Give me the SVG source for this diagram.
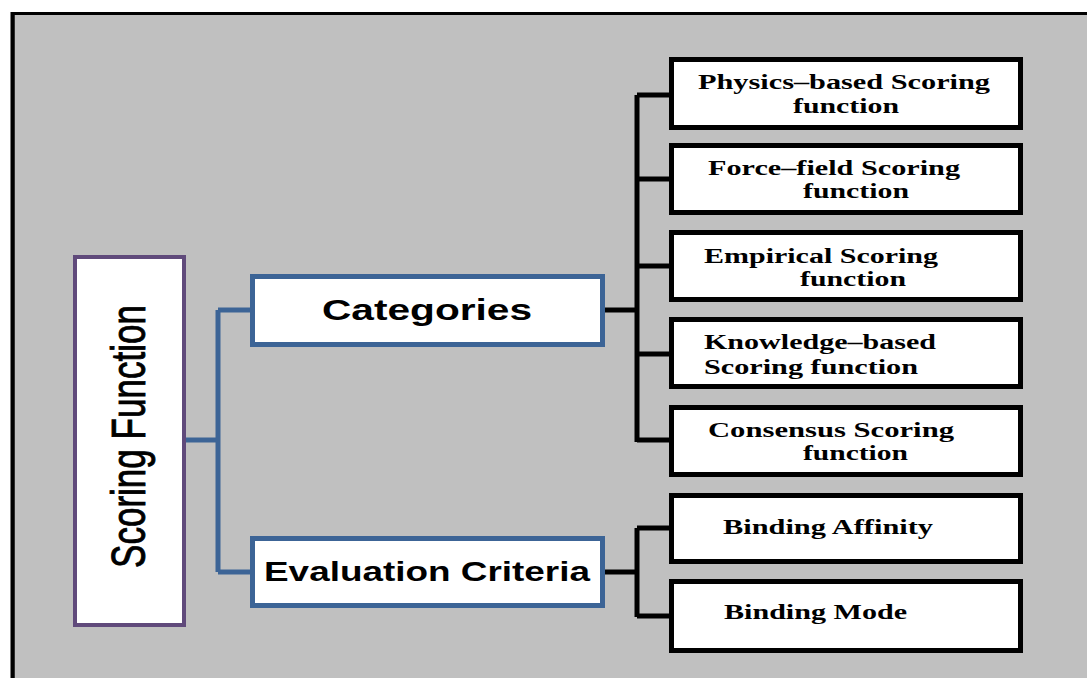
<svg xmlns="http://www.w3.org/2000/svg" width="1087" height="678" viewBox="0 0 1087 678">
<style>
.sf{fill:#fff;stroke:#604A7B;stroke-width:4}
.bl{fill:#fff;stroke:#3C6496;stroke-width:5}
.bk{fill:#fff;stroke:#000;stroke-width:5}
.blc{fill:none;stroke:#3C6496;stroke-width:5}
.bkc{fill:none;stroke:#000;stroke-width:5}
.ar{font-family:"Liberation Sans",Arial,sans-serif;font-weight:bold;fill:#000}
.tm{font-family:"Liberation Serif","Times New Roman",serif;font-weight:bold;font-size:20px;fill:#000}
</style>
<rect x="0" y="0" width="1087" height="678" fill="#fff"/>
<rect x="13" y="13.5" width="1100" height="700" fill="#C0C0C0" stroke="#000" stroke-width="3"/>
<line x1="12.5" y1="12" x2="12.5" y2="678" stroke="#000" stroke-width="4"/>
<g id="connectors">
<path class="blc" d="M186 440 H218 M218 310 V572 M218 310 H252 M218 572 H252"/>
<path class="bkc" d="M605 310 H637 M637 95 V442 M637 95 H671 M637 179 H671 M637 266 H671 M637 354 H671 M637 440 H671"/>
<path class="bkc" d="M605 572 H637 M637 528 V617 M637 528 H671 M637 616 H671"/>
</g>
<g id="scoring-function">
<rect class="sf" x="75" y="257" width="109" height="368"/>
<text class="ar" style="font-weight:normal" stroke="#000" stroke-width="0.9" font-size="49" text-anchor="middle" textLength="263" lengthAdjust="spacingAndGlyphs" transform="translate(145,436.5) rotate(-90)">Scoring Function</text>
</g>
<g id="categories">
<rect class="bl" x="252.5" y="276.5" width="350" height="68"/>
<text class="ar" font-size="29" x="322" y="320" textLength="210" lengthAdjust="spacingAndGlyphs">Categories</text>
</g>
<g id="evaluation-criteria">
<rect class="bl" x="252.5" y="538.5" width="350" height="67"/>
<text class="ar" font-size="27" x="264" y="581" textLength="326" lengthAdjust="spacingAndGlyphs">Evaluation Criteria</text>
</g>
<g id="physics">
<rect class="bk" x="671.5" y="59.5" width="349" height="68"/>
<text class="tm" x="698" y="89" textLength="292" lengthAdjust="spacingAndGlyphs">Physics–based Scoring</text>
<text class="tm" x="793" y="113" textLength="106" lengthAdjust="spacingAndGlyphs">function</text>
</g>
<g id="force-field">
<rect class="bk" x="671.5" y="145.5" width="349" height="67"/>
<text class="tm" x="708" y="175" textLength="252" lengthAdjust="spacingAndGlyphs">Force–field Scoring</text>
<text class="tm" x="803" y="198" textLength="106" lengthAdjust="spacingAndGlyphs">function</text>
</g>
<g id="empirical">
<rect class="bk" x="671.5" y="232.5" width="349" height="67"/>
<text class="tm" x="704" y="263" textLength="234" lengthAdjust="spacingAndGlyphs">Empirical Scoring</text>
<text class="tm" x="800" y="286" textLength="106" lengthAdjust="spacingAndGlyphs">function</text>
</g>
<g id="knowledge">
<rect class="bk" x="671.5" y="319.5" width="349" height="67"/>
<text class="tm" x="704" y="349" textLength="232" lengthAdjust="spacingAndGlyphs">Knowledge–based</text>
<text class="tm" x="704" y="374" textLength="214" lengthAdjust="spacingAndGlyphs">Scoring function</text>
</g>
<g id="consensus">
<rect class="bk" x="671.5" y="407.5" width="349" height="67"/>
<text class="tm" x="708" y="437" textLength="246" lengthAdjust="spacingAndGlyphs">Consensus Scoring</text>
<text class="tm" x="803" y="460" textLength="105" lengthAdjust="spacingAndGlyphs">function</text>
</g>
<g id="binding-affinity">
<rect class="bk" x="671.5" y="495.5" width="349" height="66"/>
<text class="tm" x="723" y="534" textLength="210" lengthAdjust="spacingAndGlyphs">Binding Affinity</text>
</g>
<g id="binding-mode">
<rect class="bk" x="671.5" y="581.5" width="349" height="69"/>
<text class="tm" x="724" y="619" textLength="183" lengthAdjust="spacingAndGlyphs">Binding Mode</text>
</g>
</svg>
